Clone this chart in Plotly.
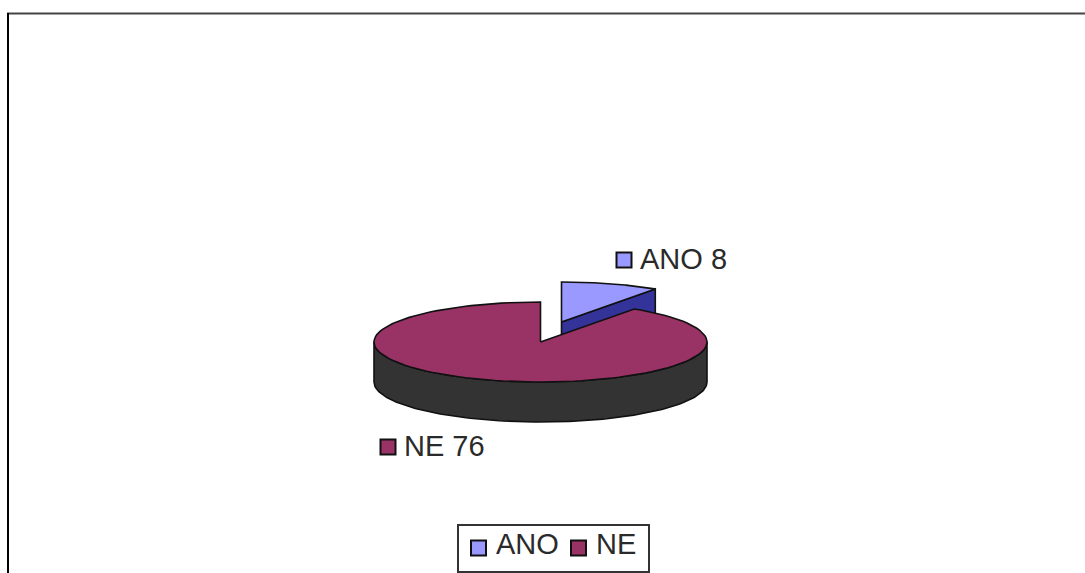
import numpy as np
import plotly.graph_objects as go

# --- data ---
categories = ["ANO", "NE"]
values = [8, 76]

# --- style and geometry (pixel-like axis units) ---
WIDTH, HEIGHT = 1085, 573
COLORS = {"ANO": "#9999FF", "NE": "#993366"}
ANO_FACE = "#333399"
NE_WALL = "#333333"
OUTLINE = "#111111"
FONT = "Liberation Sans"
FONT_SIZE = 29
TEXT_COLOR = "#2a2a2a"
CX, CY = 540.5, 342.0     # pie centre
RX, RY = 166.5, 40.0      # ellipse radii
DEPTH = 40.0              # extrusion
EXPLODE = (21.0, -20.0)   # offset of the exploded slice
LABEL_POS = {"ANO": (624, 260), "NE": (388, 447)}
LEGEND_BOX = (458, 525, 649, 572)
LEGEND_SWATCH = {"ANO": (478.5, 548), "NE": (578.5, 548)}

total = sum(values)
sweeps = [2 * np.pi * v / total for v in values]


def rim(a0, a1, cx=CX, cy=CY, n=120):
    """Ellipse points, angle measured clockwise from 12 o'clock."""
    a = np.linspace(a0, a1, n)
    return cx + RX * np.sin(a), cy - RY * np.cos(a)


def poly(x, y, fill, name):
    return go.Scatter(
        x=list(x), y=list(y), mode="lines", fill="toself", fillcolor=fill,
        line=dict(color=OUTLINE, width=1.6), name=name, hoverinfo="name",
        showlegend=False,
    )


fig = go.Figure()

# exploded slice (ANO): inner face first, then the top
a_end = sweeps[0]
ax, ay = CX + EXPLODE[0], CY + EXPLODE[1]
rx_end = ax + RX * np.sin(a_end)
ry_end = ay - RY * np.cos(a_end)
fig.add_trace(poly([ax, rx_end, rx_end, ax, ax],
                   [ay, ry_end, ry_end + DEPTH, ay + DEPTH, ay],
                   ANO_FACE, categories[0]))
xs, ys = rim(0, a_end, ax, ay)
fig.add_trace(poly(np.r_[ax, xs, ax], np.r_[ay, ys, ay], COLORS["ANO"], categories[0]))

# NE: outer wall (front half of the rim), then the top
xs, ys = rim(np.pi / 2, 3 * np.pi / 2)
fig.add_trace(poly(np.r_[xs, xs[::-1], xs[0]],
                   np.r_[ys, ys[::-1] + DEPTH, ys[0]],
                   NE_WALL, categories[1]))
xs, ys = rim(a_end, a_end + sweeps[1])
fig.add_trace(poly(np.r_[CX, xs, CX], np.r_[CY, ys, CY], COLORS["NE"], categories[1]))

# data label and legend swatches
for cat, val in zip(categories, values):
    lx, ly = LABEL_POS[cat]
    sx, sy = LEGEND_SWATCH[cat]
    fig.add_trace(go.Scatter(
        x=[lx, sx], y=[ly, sy], mode="markers",
        marker=dict(symbol="square", size=15, color=COLORS[cat],
                    line=dict(color=OUTLINE, width=2)),
        hoverinfo="skip", showlegend=False, name=cat,
    ))
    fig.add_annotation(x=lx + 14, y=ly - 1, text=f"{cat} {val}", xanchor="left",
                       yanchor="middle", showarrow=False, xref="x", yref="y",
                       font=dict(family=FONT, size=FONT_SIZE, color=TEXT_COLOR))
    fig.add_annotation(x=sx + 15, y=sy - 4, text=cat, xanchor="left",
                       yanchor="middle", showarrow=False, xref="x", yref="y",
                       font=dict(family=FONT, size=FONT_SIZE, color=TEXT_COLOR))

# frame (top and left only) and legend box
fig.add_shape(type="line", x0=7, x1=WIDTH, y0=13.5, y1=13.5, xref="x", yref="y",
              line=dict(color="#444444", width=2))
fig.add_shape(type="line", x0=8, x1=8, y0=13, y1=HEIGHT, xref="x", yref="y",
              line=dict(color="#000000", width=2))
x0, y0, x1, y1 = LEGEND_BOX
fig.add_shape(type="rect", x0=x0, y0=y0, x1=x1, y1=y1, xref="x", yref="y",
              line=dict(color="#333333", width=2), layer="below")

fig.update_layout(
    width=WIDTH, height=HEIGHT, autosize=False,
    margin=dict(l=0, r=0, t=0, b=0),
    paper_bgcolor="white", plot_bgcolor="white",
    xaxis=dict(range=[0, WIDTH], visible=False, fixedrange=True),
    yaxis=dict(range=[HEIGHT, 0], visible=False, fixedrange=True),
    font=dict(family=FONT),
)

fig.write_html("out.html", post_script="document.body.style.margin='0';",
               config={"displayModeBar": False})
